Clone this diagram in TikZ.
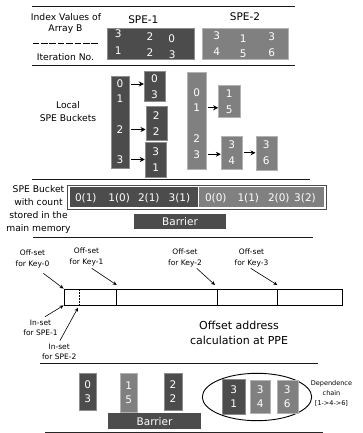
\documentclass[tikz,border=0pt]{standalone}
\usepackage{fontspec}
\setmainfont{DejaVu Sans}
\usetikzlibrary{arrows.meta,shapes.geometric}
\tikzset{
  dk/.style={rectangle, fill=black!70, draw=black!45, line width=0.4pt, inner sep=0pt},
  lt/.style={rectangle, fill=black!50, draw=black!30, line width=0.4pt, inner sep=0pt},
  num/.style={text=white, font=\fontsize{10.5}{16}\selectfont, inner sep=0pt, align=center},
  numS/.style={text=white, font=\fontsize{10.5}{14.5}\selectfont, inner sep=0pt, align=center},
  sep/.style={line width=1.4pt, black!90},
  lbl/.style={font=\fontsize{9.2}{12.8}\selectfont, align=center, inner sep=0pt},
  head/.style={font=\fontsize{10.5}{13}\selectfont, inner sep=0pt},
  small/.style={font=\fontsize{7.5}{10.7}\selectfont, align=center, inner sep=0pt},
  tiny/.style={font=\fontsize{6.5}{10}\selectfont, align=center, inner sep=0pt},
  big/.style={font=\fontsize{11}{15}\selectfont, align=center, inner sep=0pt},
  cnt/.style={text=white, font=\fontsize{10.5}{13}\selectfont, inner sep=0pt},
  arr/.style={line width=0.9pt, -{Stealth[length=5pt,width=5pt]}},
  thinarr/.style={line width=0.6pt, -{Stealth[length=4pt,width=3.6pt]}},
}
\begin{document}
\begin{tikzpicture}[x=1pt,y=-1pt]
\useasboundingbox (0,0) rectangle (363,433);
% ---------- section 1
\draw[sep] (31.7,6.7) -- (295,6.7);
\node[lbl] (iv) at (66,16.7) {Index Values of};
\node[lbl] (ab) at (65.5,29.3) {Array B};
\draw[line width=0.9pt, dash pattern=on 6.6pt off 1.8pt] (32.5,43.3) -- (99,43.3);
\node[lbl] (it) at (65.5,56.7) {Iteration No.};
\node[head] (spe1) at (143.3,20) {SPE-1};
\node[head] (spe2) at (245,16.7) {SPE-2};
\node[dk, minimum width=87.6pt, minimum height=31pt] (s1) at (150.5,43.8) {};
\node[lt, minimum width=86.6pt, minimum height=31pt] (s2) at (245,43.8) {};
\node[num] (a1) at (118.3,33.3) {3};
\node[num] (a2) at (150,36.7) {2};
\node[num] (a3) at (171.7,39) {0};
\node[num] (a4) at (118.3,50.8) {1};
\node[num] (a5) at (150,52.8) {2};
\node[num] (a6) at (172.2,54.5) {3};
\node[num] (b1) at (216.7,35.3) {3};
\node[num] (b2) at (243.3,38.5) {1};
\node[num] (b3) at (271.7,36.2) {3};
\node[num] (b4) at (216.7,51.3) {4};
\node[num] (b5) at (243.3,54) {5};
\node[num] (b6) at (271.7,52.5) {6};
\draw[sep] (31.7,65.7) -- (295,65.7);
% ---------- section 2
\node[lbl] (loc) at (68,111.5) {Local\\SPE Buckets};
\node[dk, minimum width=18.6pt, minimum height=91pt] (barA) at (120,122.2) {};
\node[num] (nA0) at (120,84) {0};
\node[num] (nA1) at (120,99) {1};
\node[num] (nA2) at (120,129.5) {2};
\node[num] (nA3) at (120,159.5) {3};
\node[dk, num, minimum width=21pt, minimum height=30pt] (A1) at (154.5,86.7) {0\\3};
\node[dk, num, minimum width=21pt, minimum height=33.3pt] (A2) at (156.2,123.3) {2\\2};
\node[dk, num, minimum width=21.7pt, minimum height=35pt] (A3) at (155.8,159.8) {3\\1};
\draw[arr] (nA0 -| barA.east) ++(1.5,0) -- (nA0 -| A1.west);
\draw[arr] (nA2 -| barA.east) ++(1.5,0) -- (nA2 -| A2.west);
\draw[arr] (nA3 -| barA.east) ++(1.5,0) -- (nA3 -| A3.west);
\node[lt, minimum width=18.7pt, minimum height=96.7pt] (barB) at (196.7,120.7) {};
\node[num] (nB0) at (196.7,92.3) {0};
\node[num] (nB1) at (196.7,107.8) {1};
\node[num] (nB2) at (196.7,139) {2};
\node[num] (nB3) at (196.7,154.2) {3};
\node[lt, num, minimum width=21.7pt, minimum height=31.6pt] (B1) at (229.2,101.5) {1\\5};
\node[lt, num, minimum width=21.3pt, minimum height=32.3pt] (B2) at (231.7,152.8) {3\\4};
\node[lt, num, minimum width=21pt, minimum height=34pt] (B3) at (266.2,153) {3\\6};
\draw[arr] (nB1 -| barB.east) ++(1.5,0) -- (nB1 -| B1.west);
\draw[arr] (nB3 -| barB.east) ++(1.5,0) -- (nB3 -| B2.west);
\draw[arr] (B2.east) ++(1,0) -- (B2.east -| B3.west);
\draw[sep] (31.7,179.5) -- (310,179.5);
% ---------- section 3
\node[lbl] (sbk) at (38.5,209.3) {SPE Bucket\\with count\\stored in the\\main memory};
\node[rectangle, draw=black!70, line width=0.9pt, fill=white, minimum width=259.2pt, minimum height=24.3pt, inner sep=0pt] (frame) at (196.9,197.2) {};
\node[rectangle, fill=black!70, minimum width=127.7pt, minimum height=19.5pt, inner sep=0pt] (M1) at (133.9,197.2) {};
\node[rectangle, fill=black!50, minimum width=124.8pt, minimum height=19.5pt, inner sep=0pt] (M2) at (261.6,197.2) {};
\node[cnt] (c1) at (85.8,198.3) {0(1)};
\node[cnt] (c2) at (119.2,198.3) {1(0)};
\node[cnt] (c3) at (148.8,198.3) {2(1)};
\node[cnt] (c4) at (179.5,198.3) {3(1)};
\node[cnt] (c5) at (215.8,198.3) {0(0)};
\node[cnt] (c6) at (248.3,198.3) {1(1)};
\node[cnt] (c7) at (278.8,198.3) {2(0)};
\node[cnt] (c8) at (305,198.3) {3(2)};
\node[dk, cnt, draw=none, minimum width=92pt, minimum height=15pt] (bar1) at (180,221.8) {Barrier};
\draw[sep] (33,237.3) -- (313,237.3);
% ---------- section 4
\node[rectangle, draw=black, line width=0.8pt, minimum width=278.7pt, minimum height=16pt, inner sep=0pt] (R) at (203.35,297) {};
\draw[line width=0.8pt] (116.7,289) -- (116.7,305);
\draw[line width=0.8pt] (217.3,289) -- (217.3,305);
\draw[line width=0.8pt] (277.3,289) -- (277.3,305);
\draw[line width=0.7pt, dash pattern=on 1.6pt off 1.4pt] (79,289) -- (79,305);
\node[small] (k0) at (32.5,258.7) {Off-set\\for Key-0};
\node[small] (k1) at (86.5,257) {Off-set\\for Key-1};
\node[small] (k2) at (185,258) {Off-set\\for Key-2};
\node[small] (k3) at (251.5,258) {Off-set\\for Key-3};
\coordinate (k0t) at (43.3,273.3);
\coordinate (k1t) at (91.7,268.3);
\coordinate (k2t) at (196.7,268.3);
\coordinate (k3t) at (250.7,268.3);
\coordinate (e1) at (116.7,285);
\coordinate (e2) at (215,285);
\coordinate (e3) at (277.3,285);
\draw[thinarr] (k0t) -- (R.north west);
\draw[thinarr] (k1t) -- (e1);
\draw[thinarr] (k2t) -- (e2);
\draw[thinarr] (k3t) -- (e3);
\node[small] (in1) at (40.5,327.8) {In-set\\for SPE-1};
\node[small] (in2) at (59.2,351.7) {In-set\\for SPE-2};
\coordinate (i1t) at (45,316.7);
\coordinate (i2t) at (60,340.5);
\coordinate (i2e) at (78,307.7);
\draw[thinarr] (i1t) -- (R.south west);
\draw[thinarr] (i2t) -- (i2e);
\node[big] (oa) at (239,332.5) {Offset address\\calculation at PPE};
\draw[sep] (40,363.3) -- (318,363.3);
% ---------- section 5
\node[dk, numS, minimum width=16.7pt, minimum height=36.7pt] (C1) at (87.7,391.7) {0\\3};
\node[lt, numS, minimum width=17.3pt, minimum height=39.7pt] (C2) at (128.7,392.8) {1\\5};
\node[dk, numS, minimum width=17.4pt, minimum height=36.7pt] (C3) at (173,391.7) {2\\2};
\node[dk, cnt, draw=none, minimum width=92.4pt, minimum height=15.7pt] (bar2) at (154.5,421.2) {Barrier};
\node[ellipse, draw=black, line width=0.9pt, minimum width=109.4pt, minimum height=47.4pt, inner sep=0pt] (el) at (257,397) {};
\node[dk, numS, minimum width=22.3pt, minimum height=34.7pt] (D1) at (233.8,396.7) {3\\1};
\node[lt, numS, minimum width=20.7pt, minimum height=33.3pt] (D2) at (260.3,396.7) {3\\4};
\node[lt, numS, minimum width=21pt, minimum height=33.3pt] (D3) at (287.2,396.7) {3\\6};
\node[tiny] (dep) at (331.5,393) {Dependence\\chain\\{[1->4->6]}};
\draw[line width=1.1pt, black!85] (45,432.3) -- (323,432.3);
\end{tikzpicture}
\end{document}
